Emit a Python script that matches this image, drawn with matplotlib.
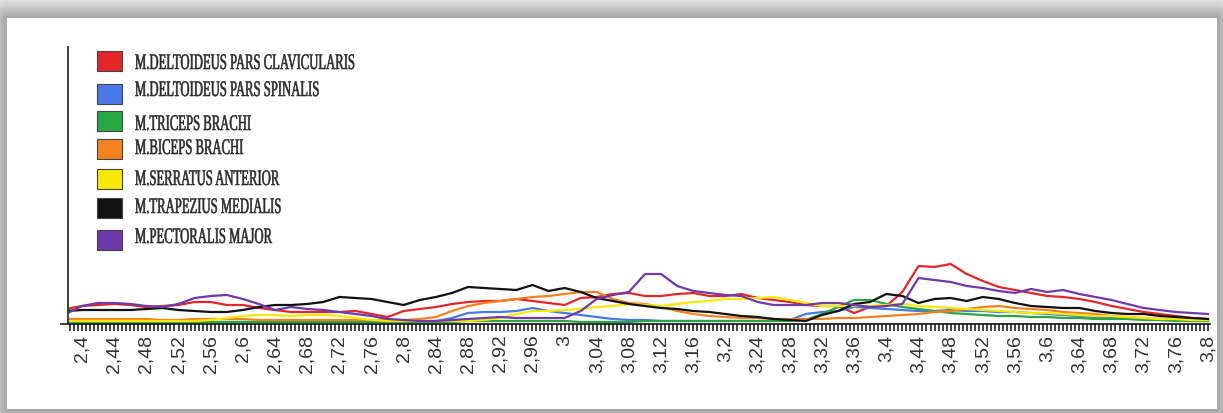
import numpy as np
import matplotlib.pyplot as plt
import matplotlib.patheffects as pe
from matplotlib.patches import Rectangle
from matplotlib.transforms import Affine2D
from matplotlib.ticker import FixedLocator, FuncFormatter

# time axis (s), one sample every 0.02 s
t = np.round(np.arange(2.38, 3.8001, 0.02), 2)

# EMG envelopes (arbitrary units)
deltoid_clav = [15, 18, 19, 20, 19, 17, 18, 19, 22, 22, 19, 19, 16, 14, 12, 12, 12, 12,
                13, 10, 7, 13, 15, 17, 20, 22, 23, 23, 25, 23, 21, 19, 26, 27, 30, 31,
                28, 28, 30, 31, 28, 28, 30, 26, 24, 22, 19, 18, 18, 11, 17, 18, 32, 58,
                57, 60, 50, 43, 37, 34, 31, 28, 27, 25, 22, 18, 15, 12, 10, 8, 6, 5]
deltoid_spin = [2, 2, 2, 2, 2, 2, 2, 2, 2, 2, 2, 2, 2, 2, 2, 2, 2, 2,
                2, 2, 2, 2, 2, 3, 6, 11, 12, 12, 13, 16, 13, 11, 9, 7, 5, 4,
                4, 3, 3, 3, 3, 3, 3, 3, 3, 4, 10, 12, 13, 17, 16, 15, 14, 13,
                13, 14, 13, 13, 12, 12, 11, 10, 9, 8, 7, 6, 5, 5, 4, 4, 3, 3]
triceps = [2, 2, 2, 2, 2, 2, 2, 2, 2, 2, 2, 2, 2, 2, 2, 2, 2, 2,
           2, 2, 2, 2, 2, 2, 2, 3, 3, 3, 3, 3, 3, 3, 2, 2, 2, 2,
           3, 3, 3, 3, 3, 3, 3, 3, 3, 3, 4, 10, 17, 24, 24, 20, 17, 15,
           13, 11, 10, 9, 8, 8, 7, 7, 6, 6, 5, 5, 5, 4, 4, 3, 3, 3]
biceps = [5, 5, 5, 5, 5, 5, 4, 4, 5, 5, 5, 5, 4, 4, 4, 4, 4, 4,
          4, 4, 4, 4, 5, 7, 13, 18, 21, 23, 25, 27, 28, 30, 32, 32, 25, 21,
          20, 17, 13, 10, 8, 7, 6, 6, 5, 5, 5, 5, 6, 6, 7, 8, 9, 10,
          12, 13, 15, 17, 18, 16, 15, 14, 12, 11, 10, 8, 7, 6, 5, 5, 4, 4]
serratus = [3, 3, 3, 3, 3, 3, 3, 3, 3, 4, 6, 8, 9, 9, 8, 9, 9, 8,
            6, 4, 3, 3, 3, 3, 3, 3, 4, 6, 10, 13, 13, 14, 15, 17, 18, 20,
            19, 18, 20, 22, 23, 25, 25, 26, 27, 24, 21, 18, 18, 18, 18, 19, 20, 18,
            17, 16, 15, 14, 13, 12, 11, 11, 10, 9, 8, 8, 7, 6, 5, 5, 4, 4]
trapezius = [13, 14, 14, 14, 14, 15, 16, 14, 13, 12, 12, 14, 17, 19, 19, 20, 22, 27,
             26, 25, 22, 19, 24, 27, 31, 37, 36, 35, 34, 39, 33, 36, 32, 26, 23, 20,
             18, 16, 15, 13, 12, 10, 8, 7, 5, 4, 3, 9, 13, 20, 22, 30, 28, 21,
             25, 26, 23, 27, 25, 21, 18, 17, 16, 16, 13, 11, 10, 10, 8, 7, 6, 5]
pectoralis = [10, 18, 21, 21, 20, 18, 17, 20, 26, 28, 29, 25, 20, 14, 17, 15, 14, 12,
              10, 8, 5, 4, 3, 3, 4, 5, 6, 7, 6, 6, 6, 6, 13, 25, 29, 32,
              50, 50, 38, 33, 31, 29, 28, 22, 19, 19, 19, 21, 21, 19, 17, 18, 20, 46,
              44, 42, 38, 36, 33, 31, 35, 32, 34, 30, 27, 24, 20, 16, 14, 12, 11, 10]

muscles = ["M.DELTOIDEUS PARS CLAVICULARIS", "M.DELTOIDEUS PARS SPINALIS",
           "M.TRICEPS BRACHI", "M.BICEPS BRACHI", "M.SERRATUS ANTERIOR",
           "M.TRAPEZIUS MEDIALIS", "M.PECTORALIS MAJOR"]
series = [deltoid_clav, deltoid_spin, triceps, biceps, serratus, trapezius, pectoralis]
colors = ["#e3262a", "#4a78e6", "#27a844", "#f58220", "#f7ea00", "#111111", "#6d3aa8"]

xticks = np.round(np.arange(2.4, 3.8001, 0.04), 2)
minor_ticks = np.round(np.arange(2.385, 3.8001, 0.005), 3)

W, H = 1223, 414


class Squeeze(pe.AbstractPathEffect):
    """Narrow the glyphs horizontally (condensed look) and thicken them a bit."""
    def __init__(self, sx, stroke=0.5):
        super().__init__()
        self.sx = sx
        self.stroke = stroke

    def draw_path(self, renderer, gc, tpath, affine, rgbFace=None):
        gc0 = renderer.new_gc()
        gc0.copy_properties(gc)
        gc0.set_linewidth(self.stroke)
        gc0.set_foreground(rgbFace)
        renderer.draw_path(gc0, tpath, Affine2D().scale(self.sx, 1.0) + affine, rgbFace)
        gc0.restore()


def fig_xy(x, y):
    return x / W, 1 - y / H


fig = plt.figure(figsize=(W / 100, H / 100), dpi=100)

# grey drop shadow around the white page
yy, xx = np.mgrid[0:H, 0:W]
left, top, right, bottom = 7, 19, 1216, 409
dx = np.maximum(np.maximum(left - xx, xx - right), 0)
dy = np.maximum(np.maximum(top - yy, yy - bottom), 0)
d = np.hypot(dx, dy)
shade = np.where(d > 0, np.clip(0.64 + 0.013 * d, 0, 0.9), 1.0)
bg = fig.add_axes([0, 0, 1, 1], zorder=-5)
bg.imshow(shade, cmap="gray", vmin=0, vmax=1, aspect="auto", interpolation="bilinear")
bg.axis("off")

x0, y0 = fig_xy(68, 325)
x1, y1 = fig_xy(1210, 48)
ax = fig.add_axes([x0, y0, x1 - x0, y1 - y0], zorder=2)
ax.patch.set_alpha(0)

for vals, c in zip(series, colors):
    ax.plot(t, vals, color=c, lw=1.6, solid_joinstyle="round")

ax.set_xlim(2.3826, 3.8025)
ax.set_ylim(0, 277)

ax.xaxis.set_major_locator(FixedLocator(xticks))
ax.xaxis.set_minor_locator(FixedLocator(minor_ticks))
ax.xaxis.set_major_formatter(FuncFormatter(
    lambda v, p: f"{v:.2f}".rstrip("0").rstrip(".").replace(".", ",")))
ax.tick_params(axis="x", which="both", direction="out", length=5, width=1.1,
               color="#111111", bottom=True)
ax.tick_params(axis="x", which="major", labelsize=14, labelrotation=90, pad=2)
for lab in ax.get_xticklabels():
    lab.set_family("Liberation Sans")
    lab.set_color("#333333")

ax.set_yticks([0])
ax.set_yticklabels([])
ax.tick_params(axis="y", length=6, width=1.2, color="#222222")

for s in ["top", "right"]:
    ax.spines[s].set_visible(False)
ax.spines["left"].set_color("#333333")
ax.spines["left"].set_linewidth(1.3)
ax.spines["bottom"].set_color("#111111")
ax.spines["bottom"].set_linewidth(1.2)

# legend drawn by hand in the upper left
patch_y = [62, 95, 122, 150, 180, 209, 241]
text_y = [63, 90, 124, 148, 179, 207, 237]
for name, c, py, ty in zip(muscles, colors, patch_y, text_y):
    px0, py0 = fig_xy(97, py + 10)
    fig.add_artist(Rectangle((px0, py0), 25 / W, 20 / H, transform=fig.transFigure,
                             facecolor=c, edgecolor="#444444", lw=0.8))
    tx, tyf = fig_xy(135, ty + 7)
    fig.text(tx, tyf, name, family="Liberation Serif", fontsize=16, color="#2a2a2a",
             ha="left", va="baseline", path_effects=[Squeeze(0.57, 0.4)])

fig.savefig("out.png", dpi=100)
